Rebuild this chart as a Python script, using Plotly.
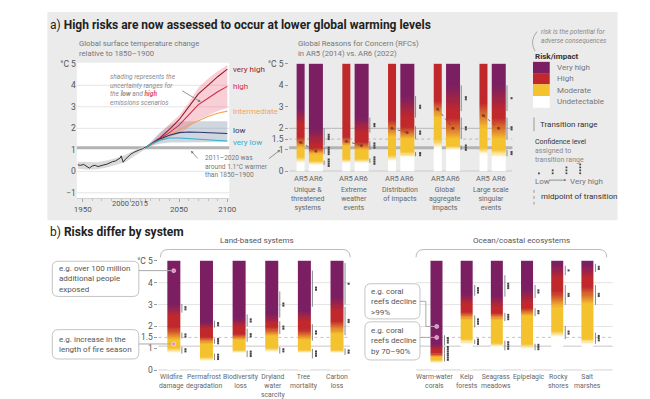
import numpy as np
import plotly.graph_objects as go

W, H = 650, 399
def px(x): return x / W
def py(y): return 1 - y / H

FONT = "Roboto"
PURPLE, RED, YELLOW = "#7b1f62", "#c1282c", "#f5c22f"

# ---------------- data: panel a (left) ----------------
hist_years = [1945, 1948, 1951, 1954, 1957, 1960, 1963, 1966, 1969, 1972, 1975, 1978, 1981, 1984,
              1987, 1989, 1990, 1991, 1992, 1994, 1997, 2000, 2003, 2006, 2009, 2012, 2015]
hist_temp = [0.30, 0.28, 0.32, 0.22, 0.15, 0.25, 0.28, 0.22, 0.27, 0.30, 0.33, 0.40, 0.45, 0.48,
             0.55, 0.62, 0.72, 0.55, 0.42, 0.55, 0.70, 0.80, 0.88, 0.95, 1.00, 1.05, 1.12]
band_years = [1945, 1955, 1965, 1975, 1985, 1995, 2005, 2015]
hist_lo = [0.12, 0.08, 0.10, 0.18, 0.30, 0.45, 0.75, 1.02]
hist_hi = [0.45, 0.42, 0.42, 0.50, 0.62, 0.78, 1.00, 1.18]

scen_years = [2015, 2020, 2030, 2040, 2050, 2060, 2070, 2080, 2090, 2100]
very_high = [1.1, 1.25, 1.55, 1.95, 2.40, 3.00, 3.60, 4.00, 4.40, 4.75]
high = [1.1, 1.22, 1.50, 1.80, 2.15, 2.60, 3.10, 3.40, 3.70, 3.95]
intermediate = [1.1, 1.22, 1.45, 1.70, 1.95, 2.15, 2.35, 2.55, 2.70, 2.80]
low = [1.1, 1.25, 1.50, 1.68, 1.80, 1.83, 1.82, 1.80, 1.78, 1.76]
very_low = [1.1, 1.25, 1.45, 1.55, 1.55, 1.52, 1.50, 1.47, 1.44, 1.41]
high_band_lo = [1.1, 1.20, 1.40, 1.60, 1.75, 2.05, 2.40, 2.60, 2.80, 2.95]
high_band_hi = [1.1, 1.30, 1.75, 2.20, 2.60, 3.20, 3.90, 4.30, 4.65, 4.95]
low_band_lo = [1.1, 1.15, 1.28, 1.34, 1.36, 1.36, 1.36, 1.36, 1.36, 1.36]
low_band_hi = [1.1, 1.35, 1.80, 2.15, 2.30, 2.33, 2.33, 2.33, 2.33, 2.33]
scen_names = ["very high", "high", "intermediate", "low", "very low"]
scen_colors = ["#9a1b28", "#d42c48", "#f2a552", "#2b3569", "#2fb0cc"]

# ---------------- data: panel a (right) RFCs ----------------
rfc_names = [["Unique &", "threatened", "systems"], ["Extreme", "weather", "events"],
             ["Distribution", "of impacts"], ["Global", "aggregate", "impacts"],
             ["Large scale", "singular", "events"]]
# transitions: undetectable->moderate, moderate->high, high->very high  (start, end) in degC
ar5_um = [(0.4, 0.7), (0.4, 0.6), (0.5, 0.8), (1.1, 1.5), (0.8, 1.1)]
ar5_mh = [(1.1, 1.6), (1.2, 1.6), (1.6, 2.4), (2.5, 3.3), (2.0, 3.2)]
ar5_hv = [(2.2, 2.9), None, None, None, None]
ar6_um = [(0.3, 0.5), (0.4, 0.6), (0.7, 0.9), (1.0, 1.2), (0.7, 1.0)]
ar6_mh = [(0.8, 1.1), (1.0, 1.4), (1.5, 2.1), (1.5, 2.5), (1.5, 2.5)]
ar6_hv = [(1.2, 2.0), (1.8, 2.5), (2.5, 3.5), (2.8, 4.0), (2.8, 4.0)]
ar6_conf = [[4, 4, 3], [4, 3, 2], [2, 2, 2], [3, 2, 2], [2, 2, 1]]
ar5_mid = [1.35, 1.4, 2.0, 2.9, 2.6]
ar6_mid = [0.95, 1.2, 1.8, 2.0, 2.0]

# ---------------- data: panel b ----------------
land_names = [["Wildfire", "damage"], ["Permafrost", "degradation"], ["Biodiversity", "loss"],
              ["Dryland", "water", "scarcity"], ["Tree", "mortality"], ["Carbon", "loss"]]
land_shade = [[(0.75, 1.0), (1.35, 1.95), (2.45, 3.0)],
              [(0.4, 0.6), (1.2, 1.5), (1.85, 2.2)],
              [(0.75, 0.9), (1.35, 1.65), (1.95, 2.4)],
              [(0.8, 1.0), (1.55, 1.95), (2.1, 2.55)],
              [(0.75, 0.9), (1.35, 1.85), (2.25, 2.7)],
              [(0.75, 0.9), (1.65, 2.25), (2.7, 3.3)]]
land_range = [[(0.76, 1.06), (1.45, 1.72), (2.63, 3.03)],
              [(0.46, 0.76), (1.21, 1.45), (1.95, 2.26)],
              [(0.6, 0.9), (1.3, 1.9), (2.0, 2.55)],
              [(0.76, 1.06), (1.65, 2.24), (2.4, 3.6)],
              [(0.54, 0.98), (1.35, 2.1), (2.9, 4.55)],
              [(0.7, 1.0), (1.6, 2.9), (3.0, 4.9)]]
land_conf = [[2, 2, 2], [3, 3, 2], [3, 2, 2], [2, 2, 2], [3, 2, 2], [2, 2, 1]]

ocean_names = [["Warm-water", "corals"], ["Kelp", "forests"], ["Seagrass", "meadows"],
               ["Epipelagic"], ["Rocky", "shores"], ["Salt", "marshes"]]
ocean_shade = [[(0.3, 0.45), (0.6, 0.76), (0.9, 1.2)],
               [(1.2, 1.4), (2.3, 2.65), (3.0, 3.5)],
               [(1.05, 1.25), (2.3, 2.6), (2.85, 3.4)],
               [(0.95, 1.2), (2.45, 2.85), (3.05, 3.7)],
               [(1.5, 1.8), (2.85, 3.6), (4.2, 4.8)],
               [(1.2, 1.4), (3.0, 3.8), (4.2, 4.8)]]
ocean_range = [[(0.4, 0.75), (0.76, 1.06), (1.13, 1.6)],
               [(1.2, 1.4), (1.95, 2.5), (3.4, 3.9)],
               [(0.91, 1.35), (2.24, 2.62), (3.36, 4.34)],
               [(0.91, 1.21), (2.47, 2.84), (3.3, 3.9)],
               [(1.42, 2.02), (2.99, 3.89), (4.34, 4.78)],
               [(1.21, 1.72), (2.99, 3.89), (4.49, 4.86)]]
ocean_conf = [[3, 4, 3], [3, 3, 3], [4, 3, 3], [3, 2, 2], [2, 2, 1], [3, 2, 2]]

wildfire_examples = [4.55, 1.2]
coral_examples = [2.0, 1.5]

# ---------------- helpers ----------------
fig = go.Figure()
shapes, ann = [], []

EDGES = np.linspace(0, 5, 101)
MIDS = (EDGES[:-1] + EDGES[1:]) / 2
CSCALE = [[0, "#ffffff"], [1 / 3, YELLOW], [2 / 3, RED], [1, PURPLE]]


def risk_level(t, trans):
    lv = 0.0
    for i, r in enumerate(trans):
        if r is None:
            break
        a, b = r
        if t >= b:
            lv = i + 1.0
        elif t > a:
            lv = i + (t - a) / (b - a)
            break
        else:
            break
    return lv


def add_bar(xc, w, trans, xa, ya):
    z = [[risk_level(t, trans)] for t in MIDS]
    fig.add_trace(go.Heatmap(x=[xc - w / 2, xc + w / 2], y=EDGES, z=z, zmin=0, zmax=3,
                             colorscale=CSCALE, showscale=False, hoverinfo="skip",
                             xaxis=xa, yaxis=ya))


def add_ranges(xl_list, xd_list, ranges_list, conf_list, xa, ya, step=0.1):
    lx, ly, dx, dy = [], [], [], []
    for xl, xd, ranges, confs in zip(xl_list, xd_list, ranges_list, conf_list):
        for r, c in zip(ranges, confs):
            if r is None:
                continue
            a, b = r
            lx += [xl, xl, None]
            ly += [a, b, None]
            m = (a + b) / 2
            for k in range(c):
                dx.append(xd)
                dy.append(m + (k - (c - 1) / 2) * step)
    fig.add_trace(go.Scatter(x=lx, y=ly, mode="lines", line=dict(color="#8a8a8a", width=1),
                             hoverinfo="skip", showlegend=False, xaxis=xa, yaxis=ya))
    fig.add_trace(go.Scatter(x=dx, y=dy, mode="markers",
                             marker=dict(size=2, color="#444", symbol="square", line_width=0),
                             hoverinfo="skip", showlegend=False, xaxis=xa, yaxis=ya, cliponaxis=False))


def hline(v, xref, yref, color, width=1, dash="solid"):
    shapes.append(dict(type="line", xref=xref, yref=yref, x0=0, x1=1, y0=v, y1=v,
                       line=dict(color=color, width=width, dash=dash), layer="below"))


def text(x, y, s, size=8, color="#666", xanchor="left", yanchor="middle", **kw):
    ann.append(dict(x=px(x), y=py(y), xref="paper", yref="paper", text=s, showarrow=False,
                    xanchor=xanchor, yanchor=yanchor, font=dict(size=size, color=color, family=FONT), **kw))


def mtext(x, y_first, lines, size=8, color="#666", xanchor="left"):
    """multi-line text in one annotation; y_first = centre of first line (px)"""
    n = len(lines)
    yc = y_first + (n - 1) * 1.3 * size / 2
    text(x, yc, "<br>".join(lines), size, color, xanchor=xanchor, align=xanchor if xanchor != "center" else "center")


def rrect(x0, y0, x1, y1, r=6):
    rx, ry = r / W, r / H
    X0, X1, Y0, Y1 = px(x0), px(x1), py(y0), py(y1)
    return (f"M {X0+rx},{Y0} L {X1-rx},{Y0} Q {X1},{Y0} {X1},{Y0-ry} L {X1},{Y1+ry} "
            f"Q {X1},{Y1} {X1-rx},{Y1} L {X0+rx},{Y1} Q {X0},{Y1} {X0},{Y1+ry} "
            f"L {X0},{Y0-ry} Q {X0},{Y0} {X0+rx},{Y0} Z")


# ---------------- backgrounds ----------------
shapes.append(dict(type="rect", xref="paper", yref="paper", x0=px(37), x1=px(617), y0=py(213), y1=py(0),
                   fillcolor="#ebebeb", line_width=0, layer="below"))
shapes.append(dict(type="rect", xref="paper", yref="paper", x0=px(67), x1=px(222), y0=py(190.5), y1=py(51.9),
                   fillcolor="#ffffff", line_width=0, layer="below"))

# ---------------- panel a left ----------------
for v in [-1, 0, 2, 3, 4]:
    hline(v, "x domain", "y", "#e4e4e4", 1)
hline(1.1, "x domain", "y", "#b3b3b3", 3)

fig.add_trace(go.Scatter(x=band_years + band_years[::-1], y=hist_hi + hist_lo[::-1], fill="toself", mode="lines",
                         fillcolor="#dadada", line_width=0, hoverinfo="skip", showlegend=False,
                         xaxis="x", yaxis="y"))
fig.add_trace(go.Scatter(x=scen_years + scen_years[::-1], y=low_band_hi + low_band_lo[::-1], fill="toself",
                         mode="lines", fillcolor="rgba(110,130,160,0.33)", line_width=0, hoverinfo="skip",
                         showlegend=False, xaxis="x", yaxis="y"))
fig.add_trace(go.Scatter(x=scen_years + scen_years[::-1], y=high_band_hi + high_band_lo[::-1], fill="toself",
                         mode="lines", fillcolor="rgba(235,110,130,0.33)", line_width=0, hoverinfo="skip",
                         showlegend=False, xaxis="x", yaxis="y"))
fig.add_trace(go.Scatter(x=hist_years, y=hist_temp, mode="lines", line=dict(color="#333", width=1),
                         hoverinfo="skip", showlegend=False, xaxis="x", yaxis="y"))
for series, nm, col in zip([very_high, high, intermediate, low, very_low], scen_names, scen_colors):
    fig.add_trace(go.Scatter(x=scen_years, y=series, mode="lines", line=dict(color=col, width=1.1),
                             hoverinfo="skip", showlegend=False, xaxis="x", yaxis="y"))
label_shift = [0, 0, 0, 3, -2]
for series, nm, col, sh in zip([very_high, high, intermediate, low, very_low], scen_names, scen_colors, label_shift):
    ann.append(dict(x=px(224), y=series[-1], xref="paper", yref="y", text=nm, showarrow=False,
                    xanchor="left", yanchor="middle", yshift=sh, font=dict(size=8, color=col, family=FONT)))

# x tick labels for 2000 and 2015 (slightly separated like the original)
for yr, sh in [(2000, -10), (2015, -6)]:
    ann.append(dict(x=yr, y=py(196), xref="x", yref="paper", text=str(yr), showarrow=False,
                    xanchor="center", yanchor="middle", xshift=sh, font=dict(size=7.5, color="#555", family=FONT)))

# ---------------- panel a right ----------------
hline(2, "x2 domain", "y2", "#a9a9a9", 0.8)
hline(1.5, "x2 domain", "y2", "#a9a9a9", 0.8, "dot")
hline(1.1, "x2 domain", "y2", "#b3b3b3", 3)
hline(0, "x2 domain", "y2", "#9a9a9a", 1)

off = 0.167
for i in range(5):
    add_bar(i - off, 0.17, [ar5_um[i], ar5_mh[i], ar5_hv[i]], "x2", "y2")
    add_bar(i + off, 0.30, [ar6_um[i], ar6_mh[i], ar6_hv[i]], "x2", "y2")
add_ranges([i + 0.35 for i in range(5)], [i + 0.45 for i in range(5)],
           [[ar6_um[i], ar6_mh[i], ar6_hv[i]] for i in range(5)], ar6_conf, "x2", "y2")
for i in range(5):
    fig.add_trace(go.Scatter(x=[i - off, i + off], y=[ar5_mid[i], ar6_mid[i]], mode="lines+markers",
                             line=dict(color="#6b4a40", width=0.8, dash="dot"),
                             marker=dict(size=3, color="#8a3a2a"), hoverinfo="skip", showlegend=False,
                             xaxis="x2", yaxis="y2"))
    for xx, lab in [(i - off, "AR5"), (i + off, "AR6")]:
        ann.append(dict(x=xx, y=py(170), xref="x2", yref="paper", text=lab, showarrow=False,
                        xanchor="center", yanchor="middle", font=dict(size=7.5, color="#666", family=FONT)))
    ann.append(dict(x=i, y=py(176), xref="x2", yref="paper", text="<br>".join(rfc_names[i]), showarrow=False,
                    xanchor="center", yanchor="top", align="center", font=dict(size=7, color="#666", family=FONT)))

# ---------------- panel b ----------------
for xd, yd in [("x3 domain", "y3"), ("x4 domain", "y4")]:
    for v in [2, 3, 4]:
        hline(v, xd, yd, "#dcdcdc", 0.8)
    hline(1.5, xd, yd, "#b5b5b5", 0.8, "dot")
    hline(1.1, xd, yd, "#c6c6c6", 1)
    hline(0, xd, yd, "#9a9a9a", 1.2)

for i, tr in enumerate(land_shade):
    add_bar(i, 0.39, tr, "x3", "y3")
add_ranges([i + 0.25 for i in range(6)], [i + 0.36 for i in range(6)], land_range, land_conf, "x3", "y3")
for i, tr in enumerate(ocean_shade):
    add_bar(i, 0.41, tr, "x4", "y4")
add_ranges([i + 0.26 for i in range(6)], [i + 0.37 for i in range(6)], ocean_range, ocean_conf, "x4", "y4")

fig.add_trace(go.Scatter(x=[0, 0], y=wildfire_examples, mode="markers",
                         marker=dict(size=4, color="#e48ab8", line=dict(color="white", width=0.5)),
                         hoverinfo="skip", showlegend=False, xaxis="x3", yaxis="y3"))
fig.add_trace(go.Scatter(x=[0, 0], y=coral_examples, mode="markers",
                         marker=dict(size=4, color="#e48ab8", line=dict(color="white", width=0.5)),
                         hoverinfo="skip", showlegend=False, xaxis="x4", yaxis="y4"))

land_label_shift = [-2, -2.5, 2.5, 1.5, 0, 0]
ocean_label_shift = [-2, 0, -1, 1.5, 1, 0]
for xa, names, shifts in [("x3", land_names, land_label_shift), ("x4", ocean_names, ocean_label_shift)]:
    for i, (nm, sh) in enumerate(zip(names, shifts)):
        ann.append(dict(x=i, y=py(367), xref=xa, yref="paper", text="<br>".join(nm), showarrow=False,
                        xanchor="center", yanchor="top", align="center", xshift=sh,
                        font=dict(size=6.8, color="#666", family=FONT)))

# callouts
BOX = "#c4c4c4"
for (x0, y0, x1, y1) in [(42, 255, 130, 291), (42, 325, 130, 355), (360, 278, 416, 314), (360, 317, 416, 356)]:
    shapes.append(dict(type="path", xref="paper", yref="paper", path=rrect(x0, y0, x1, y1),
                       line=dict(color=BOX, width=1), fillcolor="white"))
for v in wildfire_examples:
    shapes.append(dict(type="line", xref="paper", yref="y3", x0=px(130), x1=px(163), y0=v, y1=v,
                       line=dict(color="#aaa", width=1)))
shapes.append(dict(type="line", xref="paper", yref="paper", x0=px(416), x1=px(422), y0=py(296), y1=py(296),
                   line=dict(color="#aaa", width=1)))
shapes.append(dict(type="line", xref="paper", yref="paper", x0=px(422), x1=px(422), y0=py(296), y1=py(322),
                   line=dict(color="#aaa", width=1)))
shapes.append(dict(type="line", xref="paper", yref="y4", x0=px(422), x1=px(431), y0=coral_examples[0],
                   y1=coral_examples[0], line=dict(color="#aaa", width=1)))
shapes.append(dict(type="line", xref="paper", yref="y4", x0=px(416), x1=px(431), y0=coral_examples[1],
                   y1=coral_examples[1], line=dict(color="#aaa", width=1)))

mtext(47, 263, ["e.g. over 100 million", "additional people", "exposed"], 8, "#555")
mtext(47, 335, ["e.g. increase in the", "length of fire season"], 8, "#555")
mtext(364, 286, ["e.g. coral", "reefs decline", "&gt;99%"], 8, "#555")
mtext(364, 326, ["e.g. coral", "reefs decline", "by 70–90%"], 8, "#555")

# brackets
for (x0, x1) in [(152, 345), (412, 606)]:
    path = (f"M {px(x0)},{py(251)} Q {px(x0)},{py(243)} {px(x0+8)},{py(243)} "
            f"L {px(x1-8)},{py(243)} Q {px(x1)},{py(243)} {px(x1)},{py(251)}")
    shapes.append(dict(type="path", xref="paper", yref="paper", path=path, line=dict(color="#bbb", width=1)))
text(250, 234, "Land-based systems", 8, "#555", xanchor="center")
text(519, 234, "Ocean/coastal ecosystems", 8, "#555", xanchor="center")

# ---------------- titles / texts ----------------
text(38, 13, "a) <b>High risks are now assessed to occur at lower global warming levels</b>", 12, "#222")
text(38, 225, "b) <b>Risks differ by system</b>", 12, "#222")
mtext(67, 32, ["Global surface temperature change", "relative to 1850–1900"], 7.7, "#777")
mtext(290, 32, ["Global Reasons for Concern (RFCs)", "in AR5 (2014) vs. AR6 (2022)"], 7.7, "#777")

mtext(99, 67, ["<i>shading represents the</i>", "<i>uncertainty ranges for</i>",
               "<i>the <b>low</b> and <b><span style='color:#e0506a'>high</span></b></i>",
               "<i>emissions scenarios</i>"], 6.6, "#8a8a8a")
ann.append(dict(x=px(193), y=py(92), xref="paper", yref="paper", ax=-20, ay=-12, text="", showarrow=True,
                arrowhead=2, arrowsize=0.7, arrowwidth=0.8, arrowcolor="#777"))

mtext(195, 149, ["2011–2020 was", "around 1.1°C warmer", "than 1850–1900"], 6.6, "#777")
ann.append(dict(x=px(183), y=py(142), xref="paper", yref="paper", ax=8, ay=9, text="", showarrow=True,
                arrowhead=2, arrowsize=0.7, arrowwidth=0.8, arrowcolor="#777"))
ann.append(dict(x=px(274), y=py(141), xref="paper", yref="paper", ax=-13, ay=10, text="", showarrow=True,
                arrowhead=2, arrowsize=0.7, arrowwidth=0.8, arrowcolor="#777"))

# ---------------- legend ----------------
mtext(537, 21, ["<i>risk is the potential for</i>", "<i>adverse consequences</i>"], 6.6, "#888")
shapes.append(dict(type="path", xref="paper", yref="paper",
                   path=f"M {px(535)},{py(20)} Q {px(527)},{py(30)} {px(533)},{py(40)}",
                   line=dict(color="#999", width=0.8)))
text(531, 46, "<b>Risk/impact</b>", 8, "#333")
for (c, y0, y1, lab) in [(PURPLE, 51, 62.5, "Very high"), (RED, 62.5, 74, "High"),
                         (YELLOW, 74, 86, "Moderate"), ("#ffffff", 86, 98, "Undetectable")]:
    shapes.append(dict(type="rect", xref="paper", yref="paper", x0=px(531), x1=px(548), y0=py(y1), y1=py(y0),
                       fillcolor=c, line_width=0))
    text(553, (y0 + y1) / 2, lab, 8, "#777")
shapes.append(dict(type="line", xref="paper", yref="paper", x0=px(532), x1=px(532), y0=py(108), y1=py(122),
                   line=dict(color="#999", width=1)))
text(536, 115, "Transition range", 8, "#333")
mtext(531, 133, ["<span style='color:#333'>Confidence level</span>", "assigned to", "transition range"], 7, "#888")
for xx, n in [(537, 1), (551, 2), (565, 3), (579, 4)]:
    for k in range(n):
        yy = 165 - k * 3
        shapes.append(dict(type="rect", xref="paper", yref="paper", x0=px(xx - 0.9), x1=px(xx + 0.9),
                           y0=py(yy + 0.9), y1=py(yy - 0.9), fillcolor="#444", line_width=0))
text(531, 173, "Low", 8, "#777")
text(567, 173, "Very high", 8, "#777")
ann.append(dict(x=px(565), y=py(172), xref="paper", yref="paper", ax=-19, ay=0, text="", showarrow=True,
                arrowhead=2, arrowsize=0.6, arrowwidth=0.8, arrowcolor="#777"))
shapes.append(dict(type="line", xref="paper", yref="paper", x0=px(532), x1=px(532), y0=py(182), y1=py(197),
                   line=dict(color="#999", width=1, dash="dot")))
text(537, 189, "midpoint of transition", 8, "#333")

# ---------------- layout ----------------
tickfont = dict(size=8.5, color="#555", family=FONT)
ylabels = dict(tickvals=[0, 1, 1.5, 2, 3, 4, 5], ticktext=["0", "1", "1.5", "2", "3", "4", "°C 5"])
fig.update_layout(
    width=W, height=H, margin=dict(l=0, r=0, t=0, b=0),
    paper_bgcolor="white", plot_bgcolor="rgba(0,0,0,0)", showlegend=False,
    font=dict(family=FONT),
    xaxis=dict(domain=[px(67), px(222)], range=[1944, 2102], anchor="y", showgrid=False, zeroline=False,
               tickvals=[1950, 2000, 2015, 2050, 2100], ticktext=["1950", "", "", "2050", "2100"],
               ticks="outside", ticklen=3, tickcolor="#aaa", tickangle=0,
               tickfont=dict(size=8, color="#555", family=FONT),
               showline=True, linecolor="#d0d0d0",
               minor=dict(tick0=1950, dtick=10, ticks="outside", ticklen=2, tickcolor="#c0c0c0")),
    yaxis=dict(domain=[py(190.5), py(51.9)], range=[-1.25, 5.05], anchor="x", showgrid=False, zeroline=False,
               tickvals=[-1, 0, 1, 2, 3, 4, 5], ticktext=["−1", "0", "1", "2", "3", "4", "°C 5"],
               tickfont=tickfont, ticks=""),
    xaxis2=dict(domain=[px(283), px(510)], range=[-0.414, 4.468], anchor="y2", showgrid=False, zeroline=False,
                showticklabels=False, ticks=""),
    yaxis2=dict(domain=[py(163), py(51.9)], range=[0, 5.05], anchor="x2", showgrid=False, zeroline=False,
                tickfont=tickfont, ticks="outside", ticklen=3, tickcolor="#999", **ylabels),
    xaxis3=dict(domain=[px(150), px(345)], range=[-0.467, 5.407], anchor="y3", showgrid=False, zeroline=False,
                showticklabels=False, ticks=""),
    yaxis3=dict(domain=[py(366.5), py(253.4)], range=[0, 5.05], anchor="x3", showgrid=False, zeroline=False,
                tickfont=tickfont, ticks="outside", ticklen=3, tickcolor="#999", **ylabels),
    xaxis4=dict(domain=[px(412), px(612)], range=[-0.684, 5.83], anchor="y4", showgrid=False, zeroline=False,
                showticklabels=False, ticks=""),
    yaxis4=dict(domain=[py(366.5), py(253.4)], range=[0, 5.05], anchor="x4", showgrid=False, zeroline=False,
                showticklabels=False, ticks=""),
    shapes=shapes, annotations=ann,
)
fig.write_html("out.html")
